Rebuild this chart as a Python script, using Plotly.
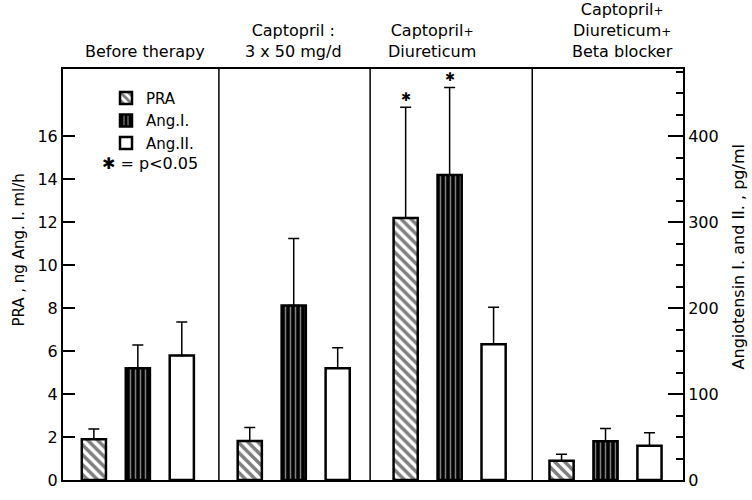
import plotly.graph_objects as go

# ---------------- data ----------------
group_labels = [
    ["Before therapy"],
    ["Captopril :", "3 x 50 mg/d"],
    ["Captopril+", "Diureticum"],
    ["Captopril+", "Diureticum+", "Beta blocker"],
]
groups = [0, 1, 2, 3]

pra = [1.9, 1.82, 12.2, 0.9]            # ng Ang.I. ml/h (left axis)
pra_err = [0.48, 0.63, 5.15, 0.30]
ang1 = [130, 203, 355, 45]               # pg/ml (right axis)
ang1_err = [27, 78, 102, 15]
ang2 = [145, 130, 158, 40]               # pg/ml (right axis)
ang2_err = [39, 24, 43, 15]
sig_pra = [False, False, True, False]
sig_ang1 = [False, False, True, False]
sig_ang2 = [False, False, False, False]

left_ticks = [0, 2, 4, 6, 8, 10, 12, 14, 16]
right_ticks = [0, 100, 200, 300, 400]

# ---------------- style ----------------
FONT = "DejaVu Sans"
BAR_W = 0.155
OFFS = [-0.282, 0.0, 0.282]
Y1_MAX = 19.136
Y2_MAX = Y1_MAX * 25
dividers = [0.52, 1.49, 2.53]
label_x = [0.046, 1.0, 1.89, 3.11]

fig = go.Figure()

def add_bar(name, vals, errs, off, yaxis, pattern):
    fig.add_trace(go.Bar(
        x=groups, y=vals, name=name, yaxis=yaxis,
        width=BAR_W, offset=off - BAR_W / 2,
        marker=dict(color="white", line=dict(color="black", width=2.5), pattern=pattern),
        error_y=dict(type="data", array=errs, arrayminus=[0] * len(errs), symmetric=False,
                     color="black", thickness=1.5, width=5.5),
    ))

add_bar("PRA", pra, pra_err, OFFS[0], "y",
        dict(shape="\\", fgcolor="black", bgcolor="white", size=7, solidity=0.5))
add_bar("Ang.I.", ang1, ang1_err, OFFS[1], "y2",
        dict(shape="|", fgcolor="white", bgcolor="black", size=5, solidity=0.3))
add_bar("Ang.II.", ang2, ang2_err, OFFS[2], "y2",
        dict(shape="", fgcolor="black", bgcolor="white"))

annotations = []
# significance stars
for vals, errs, sig, off, yref in [(pra, pra_err, sig_pra, OFFS[0], "y"),
                                   (ang1, ang1_err, sig_ang1, OFFS[1], "y2"),
                                   (ang2, ang2_err, sig_ang2, OFFS[2], "y2")]:
    for g, v, e, s in zip(groups, vals, errs, sig):
        if s:
            annotations.append(dict(x=g + off, y=v + e, xref="x", yref=yref, text="✱",
                                    showarrow=False, yanchor="bottom", yshift=1,
                                    font=dict(size=12, color="black", family=FONT)))

# group titles (bottom aligned above the plot)
for g, lines, lx in zip(groups, group_labels, label_x):
    txt = "<br>".join(l.replace("+", "<span style='font-size:12px'>+</span>") for l in lines)
    annotations.append(dict(x=lx, y=1, xref="x", yref="paper", text=txt,
                            showarrow=False, yanchor="bottom", yshift=6,
                            font=dict(size=16, color="black", family=FONT)))

# legend footnote
annotations.append(dict(x=(100 - 63) / 620, y=(490 - 166) / 421, xref="paper", yref="paper",
                        text="✱ = p<0.05", showarrow=False, xanchor="left", yanchor="middle",
                        font=dict(size=16, color="black", family=FONT)))
# axis titles
annotations.append(dict(x=-(63 - 19) / 620, y=(490 - 255) / 421, xref="paper", yref="paper",
                        text="PRA , ng Ang. I. ml/h", textangle=-90, showarrow=False,
                        xanchor="center", yanchor="middle",
                        font=dict(size=15, color="black", family=FONT)))
annotations.append(dict(x=1 + (738 - 683) / 620, y=(490 - 262) / 421, xref="paper", yref="paper",
                        text="Angiotensin I. and II. , pg/ml", textangle=-90, showarrow=False,
                        xanchor="center", yanchor="middle",
                        font=dict(size=16, color="black", family=FONT)))

shapes = [dict(type="line", xref="x", yref="paper", x0=d, x1=d, y0=0, y1=1,
               line=dict(color="black", width=1.5)) for d in dividers]

fig.update_layout(
    width=752, height=500,
    margin=dict(l=63, r=69, t=69, b=10),
    paper_bgcolor="white", plot_bgcolor="white",
    font=dict(family=FONT, color="black", size=16),
    showlegend=True,
    legend=dict(x=(106 - 63) / 620, y=(490 - 82) / 421, xanchor="left", yanchor="top",
                bgcolor="rgba(0,0,0,0)", font=dict(size=15, family=FONT),
                tracegroupgap=0, itemwidth=30),
    xaxis=dict(range=[-0.48, 3.497], showticklabels=False, ticks="", showgrid=False,
               zeroline=False, showline=True, mirror=True, linecolor="black", linewidth=2),
    yaxis=dict(range=[0, Y1_MAX], tickvals=left_ticks, ticks="inside", ticklen=12,
               tickwidth=1.5, tickcolor="black", showgrid=False, zeroline=False,
               showline=True, linecolor="black", linewidth=2, tickfont=dict(size=16)),
    yaxis2=dict(range=[0, Y2_MAX], overlaying="y", side="right", tickvals=right_ticks,
                ticks="inside", ticklen=15, tickwidth=1.5, tickcolor="black",
                minor=dict(dtick=25, ticks="inside", ticklen=7, tickwidth=1.5, tickcolor="black"),
                showgrid=False, zeroline=False, showline=True, linecolor="black",
                linewidth=2, tickfont=dict(size=16)),
    annotations=annotations,
    shapes=shapes,
)

fig.write_html("out.html")
